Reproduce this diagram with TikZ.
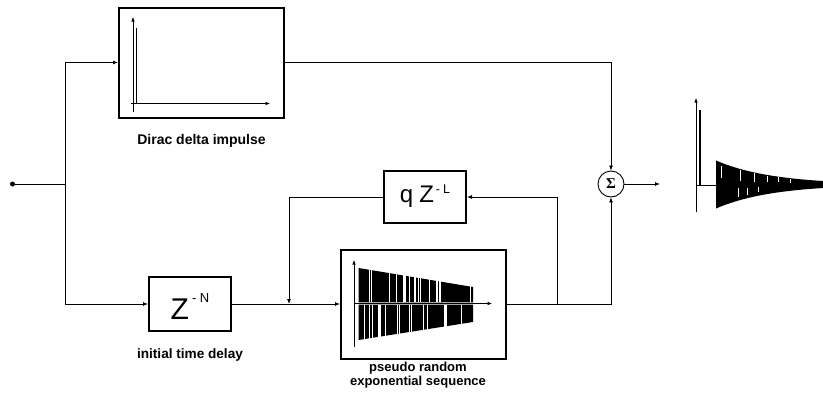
\documentclass[tikz,border=0pt]{standalone}
\usepackage{fontspec}
\setmainfont{Liberation Sans}
\newfontfamily\sigmafont{Liberation Serif}
\usetikzlibrary{arrows.meta}
\begin{document}
\begin{tikzpicture}[x=1pt,y=-1pt,
  conn/.style={line width=0.8pt},
  arr/.style={conn,-{Latex[length=5pt,width=4pt]}},
  axis/.style={line width=0.6pt,-{Latex[length=4.5pt,width=3.5pt]}},
  blk/.style={draw,line width=2pt,inner sep=0pt},
  lbl/.style={font=\bfseries\fontsize{13}{14}\selectfont,inner sep=0pt,anchor=base}]
\useasboundingbox (0,0) rectangle (823,407);

% blocks
\node[blk,minimum width=165pt,minimum height=110pt] (dirac) at (201.5,62.5) {};
\node[blk,minimum width=82pt,minimum height=54pt,text height=30pt,text depth=0pt] (zn) at (190,304)
  {\fontsize{30}{30}\selectfont Z\hspace{3pt}\raisebox{17pt}[0pt][0pt]{\fontsize{13}{13}\selectfont -\hspace{3.5pt}N}};
\node[blk,minimum width=82pt,minimum height=52pt,text height=16pt,text depth=6pt] (qz) at (425,197)
  {\fontsize{24}{24}\selectfont q\hspace{6pt}Z\hspace{2pt}\raisebox{9pt}[0pt][0pt]{\fontsize{12.5}{12.5}\selectfont -\hspace{3pt}L}};
\node[blk,minimum width=165pt,minimum height=109pt] (prs) at (423.5,304) {};
\node[draw,circle,line width=0.9pt,minimum size=26pt,inner sep=0pt] (sum) at (611,184)
  {\sigmafont\bfseries\fontsize{15}{15}\selectfont Σ};
\node[circle,fill,inner sep=0pt,minimum size=5pt] (in) at (12.5,184) {};

% labels
\node[lbl,font=\bfseries\fontsize{14}{15}\selectfont] (diraclbl) at (201.5,144) {Dirac delta impulse};
\node[lbl,font=\bfseries\fontsize{13.6}{15}\selectfont] (znlbl) at (190,358) {initial time delay};
\node[lbl,align=center] (prslbl) at (418,385.5) {pseudo random\\exponential sequence};

% junctions
\coordinate (br) at (65,184);
\coordinate (fbl) at (289,304);
\coordinate (fbr) at (557,304);
\coordinate (out) at (660,184);

% connectors
\draw[conn] (in) -- (br);
\draw[arr] (br) |- (dirac.west);
\draw[arr] (br) |- (zn.west);
\draw[arr] (zn.east) -- (prs.west);
\draw[arr] (qz.west) -| (fbl);
\draw[arr] (prs.east) -| (sum.south);
\draw[arr] (fbr) |- (qz.east);
\draw[arr] (dirac.east) -| (sum.north);
\draw[arr] (sum.east) -- (out);

% Dirac plot
\draw[axis] (133,112) -- (133,17);
\draw[axis] (131,103.5) -- (270,103.5);
\draw[line width=1.8pt] (136.5,28) -- (136.5,103);

% pseudo random exponential plot
\fill (358.5,268) -- (473,287) -- (473,302.3) -- (358.5,302.3) -- cycle;
\fill (358.5,304.7) -- (473,304.7) -- (473,322) -- (358.5,340) -- cycle;
\pgfmathsetseed{5}
\foreach \i in {1,...,18}{
  \pgfmathsetmacro\gx{363+108*rnd}
  \pgfmathsetmacro\gw{0.4+1.1*rnd}
  \draw[white,line width=\gw pt] (\gx,266) -- (\gx,302.3);
}
\foreach \i in {1,...,18}{
  \pgfmathsetmacro\gx{363+108*rnd}
  \pgfmathsetmacro\gw{0.4+1.1*rnd}
  \draw[white,line width=\gw pt] (\gx,304.7) -- (\gx,342);
}
\draw[axis] (354,347) -- (354,260);
\draw[axis] (354,303.5) -- (492,303.5);

% output plot
\draw[axis] (696,212) -- (696,98);
\draw[line width=1.8pt] (700,110) -- (700,185);
\draw[line width=1pt] (696,185) -- (716,185);
\fill plot[domain=716:823,samples=60] (\x,{184.5-24*exp(-(\x-716)/55.6)})
  -- plot[domain=823:716,samples=60] (\x,{184.5+24*exp(-(\x-716)/55.6)}) -- cycle;
\foreach \gx/\ya/\yb in {721/166/178, 740/170/181, 754/173/182, 767/176/182, 778/177/182, 790/179/183, 738/188/197, 747/188/195, 758/187/192}{
  \draw[white,line width=0.5pt] (\gx,\ya) -- (\gx,\yb);
}
\end{tikzpicture}
\end{document}
